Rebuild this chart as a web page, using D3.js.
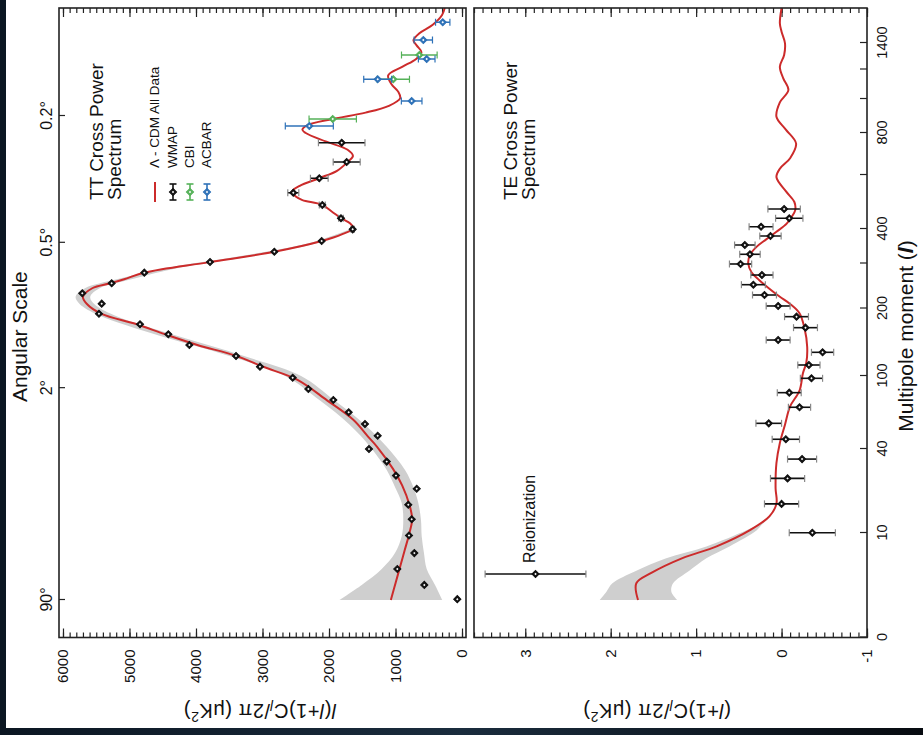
<!DOCTYPE html>
<html>
<head>
<meta charset="utf-8">
<title>WMAP TT and TE Cross Power Spectra</title>
<style>
  body { margin: 0; background: #05090f; }
  svg { display: block; font-family: "Liberation Sans", Arial, Helvetica, sans-serif; }
  .tick line { stroke: #222; stroke-width: 1.2px; }
  .tick text { fill: #111; }
</style>
</head>
<body>
<script src="https://cdn.jsdelivr.net/npm/d3@7/dist/d3.min.js"></script>
<script>
// ---- values ----

// TT, WMAP binned band powers  l(l+1)Cl/2pi  (uK^2)
var wmapTTL   = [2.1, 3.8, 5.7, 7.6, 9.7, 14.9, 20.1, 25.8, 30.5, 35.5, 40, 50.9, 60.5, 70.2, 80.3, 89.3, 98.6, 113.8, 129.6, 145.9, 161.8, 176.6, 192.3, 210.7, 233.8, 256, 279.6, 304.3, 334.2, 365.2, 399, 439.6, 488.9, 534.4, 587.8, 661.9, 753.8];
var wmapTTV   = [71, 567, 973, 717, 797, 756, 808, 681, 993, 1132, 1399, 1268, 1459, 1704, 1935, 2311, 2546, 3038, 3398, 4100, 4416, 4842, 5459, 5418, 5710, 5268, 4777, 3789, 2822, 2110, 1644, 1820, 2101, 2537, 2146, 1734, 1809];
var wmapTTErr = [0, 0, 0, 0, 0, 0, 0, 0, 0, 0, 0, 0, 0, 0, 0, 0, 0, 0, 0, 0, 0, 0, 0, 0, 0, 0, 0, 0, 0, 0, 25, 35, 45, 83, 133, 203, 350];

// TT, CBI and ACBAR
var cbiL   = [882, 1134, 1309];
var cbiV   = [1944, 1033, 642];
var cbiErr = [356, 243, 268];
var acbarL   = [841, 988, 1134, 1279, 1421, 1548];
var acbarV   = [2296, 757, 1268, 531, 582, 290];
var acbarErr = [361, 155, 210, 125, 138, 108];

// TT, Lambda-CDM best fit
var ttModelL = [2, 4, 6, 8, 10, 15, 20, 27, 33, 42, 50, 64, 80, 97, 114, 130, 146, 162, 177, 192, 210, 226, 245, 256, 265, 280, 304, 334, 365, 385, 403, 420, 440, 465, 490, 507, 520, 540, 560, 588, 620, 662, 690, 720, 760, 800, 820, 845, 882, 920, 960, 1005, 1050, 1100, 1160, 1220, 1280, 1330, 1380, 1420, 1470, 1530, 1600, 1650];
var ttModelV = [1070, 1000, 930, 860, 790, 750, 790, 900, 1040, 1280, 1410, 1635, 2030, 2480, 3000, 3400, 3980, 4470, 4900, 5420, 5640, 5700, 5560, 5290, 5080, 4770, 3800, 2820, 2110, 1800, 1630, 1680, 1820, 1960, 2110, 2400, 2500, 2550, 2440, 2150, 1880, 1720, 1640, 1720, 2050, 2350, 2400, 2330, 1950, 1450, 1100, 930, 960, 1060, 1110, 900, 690, 610, 680, 730, 640, 440, 300, 260];

// TT, cosmic variance band
var ttBandL  = [2, 3.8, 5.7, 7.6, 9.6, 14.6, 20.7, 26.4, 32.5, 41.9, 60, 80, 100, 130, 160, 190, 210, 226, 245, 265, 290, 320, 360, 400];
var ttBandLo = [296, 406, 531, 572, 606, 617, 657, 732, 857, 1132, 1460, 1920, 2420, 3290, 4300, 5230, 5530, 5590, 5450, 4970, 4270, 3190, 2160, 1590];
var ttBandHi = [1845, 1508, 1207, 1008, 907, 883, 907, 1008, 1132, 1383, 1690, 2140, 2660, 3510, 4560, 5460, 5750, 5810, 5670, 5190, 4450, 3370, 2280, 1670];

// TE, WMAP  (l+1)Cl/2pi  (uK^2)
var wmapTEL   = [5.1, 10.1, 20.4, 29.5, 36.4, 48, 61.1, 74.3, 86.3, 98.1, 116.3, 135.1, 153.3, 171.6, 187.9, 205.6, 230, 252.9, 274.4, 298.9, 326.7, 353.6, 379.7, 408.5, 439.6, 474];
var wmapTEV   = [2.88, -0.36, 0.0, -0.07, -0.24, -0.05, 0.15, -0.21, -0.09, -0.35, -0.32, -0.48, 0.04, -0.28, -0.175, 0.04, 0.2, 0.33, 0.23, 0.48, 0.37, 0.43, 0.13, 0.24, -0.09, -0.03];
var wmapTEErr = [0.59, 0.27, 0.2, 0.2, 0.17, 0.16, 0.15, 0.13, 0.14, 0.13, 0.13, 0.13, 0.14, 0.14, 0.14, 0.14, 0.14, 0.14, 0.13, 0.13, 0.12, 0.12, 0.125, 0.14, 0.16, 0.19];

// TE, Lambda-CDM best fit and its band
var teModelL = [2, 4, 5.2, 7, 8.4, 11, 16, 20.5, 26, 35, 45, 60, 75, 88, 104, 120, 143, 170, 193, 210, 226, 245, 263, 280, 300, 325, 349, 370, 392, 420, 446, 470, 500, 540, 592, 630, 680, 750, 820, 896, 980, 1061, 1140, 1221, 1310, 1398, 1480, 1541, 1650];
var teModelV = [1.68, 1.7, 1.53, 1.16, 0.76, 0.37, 0.14, 0.06, 0.07, 0.06, 0.02, -0.04, -0.1, -0.21, -0.25, -0.29, -0.3, -0.27, -0.21, -0.1, 0.02, 0.15, 0.26, 0.35, 0.39, 0.37, 0.29, 0.18, 0.06, -0.06, -0.12, -0.16, -0.15, -0.05, 0.06, 0.02, -0.1, -0.17, -0.05, 0.06, 0.02, -0.08, -0.02, 0.02, -0.03, -0.04, 0.0, 0.02, 0.0];
var teBandL  = [2, 3, 4, 5.5, 7, 8.4, 11, 13, 16];
var teBandLo = [1.22, 1.29, 1.27, 1.08, 0.88, 0.61, 0.29, 0.23, 0.13];
var teBandHi = [2.13, 2.05, 1.98, 1.70, 1.35, 0.88, 0.41, 0.27, 0.15];

// axes
var lTicks = [0, 10, 40, 100, 200, 300, 400, 600, 800, 1000, 1200, 1400];
var lTickLabels = ["0", "10", "40", "100", "200", "", "400", "", "800", "", "", "1400"];
var angL = [2, 90, 360, 900];
var angLabels = ["90\u00b0", "2\u00b0", "0.5\u00b0", "0.2\u00b0"];
var ttTicks = [0, 1000, 2000, 3000, 4000, 5000, 6000];
var ttTickLabels = ["0", "1000", "2000", "3000", "4000", "5000", "6000"];
var teTicks = [-1, 0, 1, 2, 3];
var teTickLabels = ["-1", "0", "1", "2", "3"];

// ---- layout ----
var W = 923, H = 735;
var red = "#cc2b2b", green = "#55b158", blue = "#2f72b8", band = "#cfcfcf";
var FONT = "Liberation Sans, Arial, sans-serif";

var svg = d3.select("body").append("svg").attr("width", W).attr("height", H);

// dark surround and the white sheet
var defs = svg.append("defs");
var bg = defs.append("linearGradient").attr("id", "space")
    .attr("x1", 0).attr("x2", 1).attr("y1", 0).attr("y2", 0);
bg.append("stop").attr("offset", "0%").attr("stop-color", "#0b1622");
bg.append("stop").attr("offset", "50%").attr("stop-color", "#1a2c3d");
bg.append("stop").attr("offset", "100%").attr("stop-color", "#070b10");
svg.append("rect").attr("width", W).attr("height", H).attr("fill", "url(#space)");
svg.append("rect").attr("x", 6).attr("y", 0).attr("width", W - 6).attr("height", 728).attr("fill", "#fff");

// the figure is drawn upright, then turned a quarter turn to the left
var g = svg.append("g").attr("transform", "translate(0," + H + ") rotate(-90)");

// multipole scale: stretched at low l, squeezed at high l
var lKnots = [0, 2, 10, 40, 100, 200, 300, 400, 600, 800, 1000, 1200, 1400, 1650];
var lPos   = [97.5, 135, 202, 286, 359, 426.5, 471.5, 506, 560, 602, 636, 665.5, 692, 727];
var x = d3.scaleLinear().domain(lKnots).range(lPos);
var xL = lPos[0], xR = lPos[lPos.length - 1];

var yTT = d3.scaleLinear().domain([-60, 6060]).range([466, 59]);
var yTE = d3.scaleLinear().domain([-1, 3.6]).range([867, 474]);

// clip paths for the two panels
[["clipTT", yTT], ["clipTE", yTE]].forEach(function (c) {
  var r = c[1].range();
  defs.append("clipPath").attr("id", c[0]).append("rect")
      .attr("x", xL).attr("y", r[1]).attr("width", xR - xL).attr("height", r[0] - r[1]);
});

function noDomain(sel) { sel.select(".domain").remove(); }

// value ticks on both long edges of a panel, labels on the left one
function valueAxis(y, majors, labels, minors) {
  g.append("g").attr("transform", "translate(" + xL + ",0)")
    .call(d3.axisLeft(y).tickValues(minors).tickSize(-5).tickFormat("")).call(noDomain);
  g.append("g").attr("transform", "translate(" + xL + ",0)")
    .call(d3.axisLeft(y).tickValues(majors).tickSize(-9).tickPadding(12)
      .tickFormat(function (d, i) { return labels[i]; }))
    .call(noDomain)
    .selectAll("text").attr("font-size", 15).attr("font-family", FONT);
  g.append("g").attr("transform", "translate(" + xR + ",0)")
    .call(d3.axisRight(y).tickValues(minors).tickSize(-5).tickFormat("")).call(noDomain);
  g.append("g").attr("transform", "translate(" + xR + ",0)")
    .call(d3.axisRight(y).tickValues(majors).tickSize(-9).tickFormat("")).call(noDomain);
}

valueAxis(yTT, ttTicks, ttTickLabels, d3.range(0, 6001, 100));
valueAxis(yTE, teTicks, teTickLabels, d3.range(-10, 37).map(function (i) { return i / 10; }));

// angular scale along the top of the TT panel
g.append("g").attr("transform", "translate(0," + yTT.range()[1] + ")")
  .call(d3.axisTop(x).tickValues(angL).tickSize(-6).tickPadding(7)
    .tickFormat(function (d, i) { return angLabels[i]; }))
  .call(noDomain)
  .selectAll("text").attr("font-size", 16).attr("font-family", FONT);

// multipole axis along the bottom of the TE panel
g.append("g").attr("transform", "translate(0," + yTE.range()[0] + ")")
  .call(d3.axisBottom(x).tickValues(lTicks).tickSize(-7).tickPadding(10)
    .tickFormat(function (d, i) { return lTickLabels[i]; }))
  .call(noDomain)
  .selectAll("text").attr("font-size", 14.5).attr("font-family", FONT);

// ---- TT panel ----
var pTT = g.append("g").attr("clip-path", "url(#clipTT)");
pTT.append("path")
  .datum(ttBandL.map(function (l, i) { return [l, ttBandLo[i], ttBandHi[i]]; }))
  .attr("fill", band)
  .attr("d", d3.area().curve(d3.curveCatmullRom)
    .x(function (d) { return x(d[0]); })
    .y0(function (d) { return yTT(d[1]); })
    .y1(function (d) { return yTT(d[2]); }));
pTT.append("path")
  .datum(ttModelL.map(function (l, i) { return [l, ttModelV[i]]; }))
  .attr("fill", "none").attr("stroke", red).attr("stroke-width", 2)
  .attr("d", d3.line().curve(d3.curveCatmullRom)
    .x(function (d) { return x(d[0]); })
    .y(function (d) { return yTT(d[1]); }));

var diamond = d3.symbol().type(d3.symbolSquare).size(26);
var dot = d3.symbol().type(d3.symbolSquare).size(3);

function marker(parent, px, py, color) {
  parent.append("path").attr("d", diamond)
    .attr("transform", "translate(" + px + "," + py + ") rotate(45)")
    .attr("fill", color).attr("stroke", color).attr("stroke-width", 1);
  parent.append("path").attr("d", dot)
    .attr("transform", "translate(" + px + "," + py + ") rotate(45)")
    .attr("fill", "#fff");
}

function points(parent, y, L, V, E, color, capColor) {
  var pts = L.map(function (l, i) { return { l: l, v: V[i], e: E[i] }; });
  var eb = parent.selectAll(null).data(pts.filter(function (d) { return d.e > 0; }))
    .enter().append("g").attr("stroke", color).attr("stroke-width", 1.6);
  eb.append("line")
    .attr("x1", function (d) { return x(d.l); }).attr("x2", function (d) { return x(d.l); })
    .attr("y1", function (d) { return y(d.v - d.e); }).attr("y2", function (d) { return y(d.v + d.e); });
  [-1, 1].forEach(function (s) {
    eb.append("line").attr("stroke", capColor).attr("stroke-width", 1.2)
      .attr("x1", function (d) { return x(d.l) - 3.5; }).attr("x2", function (d) { return x(d.l) + 3.5; })
      .attr("y1", function (d) { return y(d.v + s * d.e); }).attr("y2", function (d) { return y(d.v + s * d.e); });
  });
  pts.forEach(function (d) { marker(parent, x(d.l), y(d.v), color); });
}

points(pTT, yTT, wmapTTL, wmapTTV, wmapTTErr, "#111", "#888");
points(pTT, yTT, cbiL, cbiV, cbiErr, green, green);
points(pTT, yTT, acbarL, acbarV, acbarErr, blue, blue);

// ---- TE panel ----
var pTE = g.append("g").attr("clip-path", "url(#clipTE)");
pTE.append("path")
  .datum(teBandL.map(function (l, i) { return [l, teBandLo[i], teBandHi[i]]; }))
  .attr("fill", band)
  .attr("d", d3.area().curve(d3.curveCatmullRom)
    .x(function (d) { return x(d[0]); })
    .y0(function (d) { return yTE(d[1]); })
    .y1(function (d) { return yTE(d[2]); }));
pTE.append("path")
  .datum(teModelL.map(function (l, i) { return [l, teModelV[i]]; }))
  .attr("fill", "none").attr("stroke", red).attr("stroke-width", 2)
  .attr("d", d3.line().curve(d3.curveCatmullRom)
    .x(function (d) { return x(d[0]); })
    .y(function (d) { return yTE(d[1]); }));
points(pTE, yTE, wmapTEL, wmapTEV, wmapTEErr, "#111", "#888");

// frames
[yTT, yTE].forEach(function (y) {
  var r = y.range();
  g.append("rect").attr("x", xL).attr("y", r[1]).attr("width", xR - xL).attr("height", r[0] - r[1])
    .attr("fill", "none").attr("stroke", "#222").attr("stroke-width", 1.6);
});

// ---- text ----
function label(px, py, size, anchor) {
  return g.append("text").attr("x", px).attr("y", py).attr("font-size", size)
    .attr("font-family", FONT).attr("text-anchor", anchor || "start").attr("fill", "#111");
}
label(333, 27, 21).text("Angular Scale");
var ml = label(399, 913, 21, "middle").text("Multipole moment (");
ml.append("tspan").attr("font-style", "italic").attr("font-weight", "bold").text("l");
ml.append("tspan").text(")");

label(535, 103, 19).text("TT Cross Power");
label(535, 121, 19).text("Spectrum");
label(535, 517, 19).text("TE Cross Power");
label(535, 535, 19).text("Spectrum");
label(172, 535, 16).text("Reionization");

// legend
var legText = ["\u039b - CDM All Data", "WMAP", "CBI", "ACBAR"];
var legY = [155, 173, 190, 207];
g.append("line").attr("x1", 533).attr("x2", 553).attr("y1", legY[0]).attr("y2", legY[0])
  .attr("stroke", red).attr("stroke-width", 2);
[["#111", 1], [green, 2], [blue, 3]].forEach(function (c) {
  var yy = legY[c[1]];
  var lg = g.append("g").attr("stroke", c[0]).attr("stroke-width", 1.6);
  lg.append("line").attr("x1", 535).attr("x2", 551).attr("y1", yy).attr("y2", yy);
  lg.append("line").attr("x1", 535).attr("x2", 535).attr("y1", yy - 3.5).attr("y2", yy + 3.5);
  lg.append("line").attr("x1", 551).attr("x2", 551).attr("y1", yy - 3.5).attr("y2", yy + 3.5);
  marker(g, 543, yy, c[0]);
});
legText.forEach(function (t, i) { label(567, legY[i] + 4, 13.5).text(t); });

// axis titles (they end up upside down once the figure is turned)
function yTitle(cy, lead) {
  var t = g.append("text").attr("transform", "translate(31," + cy + ") rotate(-90)")
    .attr("text-anchor", "middle").attr("font-size", 20).attr("letter-spacing", 0.5)
    .attr("font-family", FONT).attr("fill", "#111");
  if (lead) t.append("tspan").attr("font-style", "italic").text("l");
  t.append("tspan").text("(");
  t.append("tspan").attr("font-style", "italic").text("l");
  t.append("tspan").text("+1)C");
  t.append("tspan").attr("font-style", "italic").attr("font-size", 14).attr("dy", 4).text("l");
  t.append("tspan").attr("dy", -4).text("/2\u03c0 (\u03bcK");
  t.append("tspan").attr("font-size", 14).attr("dy", -8).text("2");
  t.append("tspan").attr("dy", 8).text(")");
}
yTitle(260, true);
yTitle(657, false);
</script>
</body>
</html>
